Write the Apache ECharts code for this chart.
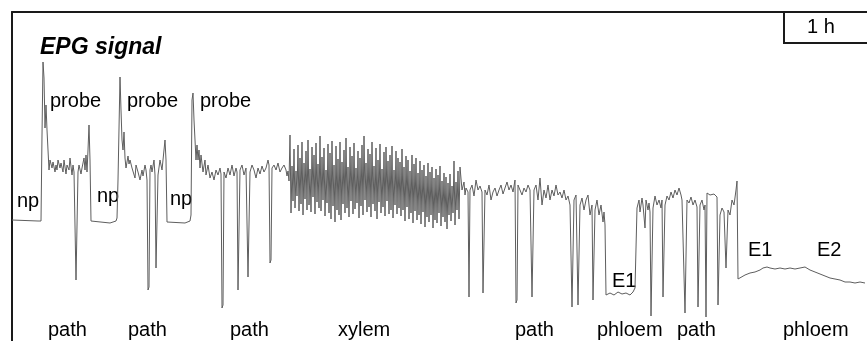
<!DOCTYPE html>
<html>
<head>
<meta charset="utf-8">
<script src="https://cdn.jsdelivr.net/npm/echarts@6/dist/echarts.min.js"></script>
<style>
  html, body { margin: 0; padding: 0; background: #fff; }
  #epg { width: 867px; height: 341px; }
</style>
</head>
<body>
<div id="epg"></div>
<script>
// EPG recording: [time, signal]
var probeTrace = [
  [0,121],[26,120],[28,119],[29,120],[30,206],[31,279],[32,263],[33,213],[34,236],[35,211],
  [36,191],[37,171],[38,181],[40,173],[41,179],[43,169],[44,176],[45,171],[46,181],[48,173],
  [49,178],[51,169],[52,181],[54,167],[55,176],[57,171],[58,183],[60,166],[61,176],[62,169],
  [63,171],[64,61],[65,63],[66,169],[67,176],[69,167],[70,173],[72,183],[73,171],[74,186],
  [75,169],[76,191],[77,216],[78,181],[79,120],[80,118],[98,118],[104,120],[105,123],[106,161],
  [108,264],[109,231],[110,201],[111,191],[112,209],[113,183],[114,173],[116,185],[117,177],[118,181],
  [120,173],[121,171],[123,163],[124,176],[126,169],[128,161],[130,171],[131,165],[133,176],[134,171],
  [135,161],[136,51],[137,54],[138,171],[139,176],[140,169],[142,181],[143,166],[144,73],[145,75],
  [146,166],[148,181],[149,176],[150,171],[152,191],[153,201],[154,181],[155,119],[156,117],[173,118],
  [178,120],[179,126],[180,241],[181,248],[182,221],[183,201],[184,181],[185,196],[186,181],[187,191],
  [188,173],[189,186],[191,169],[193,181],[194,166],[196,176],[198,163],[200,169],[202,161],[204,171],
  [206,166],[208,173],[209,167],[210,33],[211,36],[212,169],[214,163],[216,173],[218,166],[220,176],
  [222,165],[224,173],[225,169],[226,51],[227,53],[228,171],[230,176],[232,166],[234,173],[235,171],
  [236,64],[237,66],[238,169],[240,176],[242,171],[244,163],[246,173],[248,167],[250,175],[252,169],
  [254,173],[256,181],[257,176],[258,78],[259,81],[260,173],[262,176],[264,171],[266,178],[268,169],
  [270,173],[272,176],[274,171]
];

// xylem ingestion: one reading per time unit from xylemStart
var xylemStart = 275;
var xylemWave = [
  165,170,160,
  206,128,175,140,192,133,170,145,196,130,
  183,137,199,126,178,142,190,131,201,136,
  172,129,194,144,186,127,198,139,177,133,
  205,130,184,141,193,125,171,138,197,128,
  188,122,200,135,176,119,195,131,182,126,
  199,121,179,137,191,128,203,133,174,124,
  194,140,185,127,198,132,173,138,190,123,
  183,135,196,126,205,141,178,129,192,134,
  187,124,199,137,175,130,193,122,181,139,
  197,128,172,134,189,125,194,140,180,127,
  186,131,195,123,171,136,190,127,183,133,
  179,125,192,131,174,120,185,134,181,122,
  170,128,186,118,177,130,183,121,168,126,
  180,117,171,129,176,114,165,124,178,119,
  169,126,174,113,163,121,172,118,166,128,
  175,115,160,124,168,119,164,112,158,126,
  167,120,155,128,180,116,159,131,170,122,
  174
];

var pathTrace = [
  [450,151],[452,159],[453,146],[454,153],[456,149],[457,44],[458,151],[460,156],[462,145],[464,161],
  [466,151],[468,155],[470,149],[471,48],[472,50],[473,151],[475,146],[477,156],[479,141],[481,149],
  [483,153],[485,145],[487,151],[489,156],[491,147],[493,153],[495,159],[497,151],[499,156],[501,149],
  [503,161],[504,38],[505,41],[506,156],[508,151],[510,146],[512,153],[514,149],[516,156],[518,151],
  [520,44],[521,46],[522,151],[524,156],[526,141],[528,163],[530,136],[532,151],[534,143],[536,156],
  [538,141],[540,151],[542,145],[544,156],[546,146],[548,149],[550,143],[552,151],[554,141],[556,145],
  [558,136],[560,34],[561,36],[562,141],[564,146],[566,36],[567,38],[568,136],[570,143],[572,131],
  [574,141],[576,146],[578,126],[580,136],[581,41],[582,43],[583,131],[585,141],[587,126],[589,136],
  [591,119],[592,129],[593,116]
];

var phloemTrace = [
  [594,46],[598,48],[602,46],[606,49],[610,47],[614,48],[618,46],[621,49],[623,53],[624,51],
  [625,133],[627,141],[628,129],[630,143],[631,136],[633,113],[634,141],[636,131],[637,138],[638,129],
  [639,25],[640,27],[641,133],[643,145],[645,136],[647,141],[649,133],[650,141],[651,44],[652,46],
  [653,136],[655,145],[657,141],[659,149],[661,143],[663,151],[665,146],[667,153],[668,155],[669,146],
  [670,141],[672,143],[673,28],[674,30],[675,141],[677,138],[679,144],[681,136],[683,141],[685,134],
  [686,34],[687,36],[688,136],[690,141],[692,131],[693,136],[694,24],[695,148],[698,146],[702,147],
  [705,144],[706,36],[707,38],[708,126],[710,133],[712,129],[714,73],[715,75],[716,131],[718,126],
  [720,141],[722,136],[724,151],[725,160],[726,62],[728,64],[733,66],[738,68],[743,69],[748,71],
  [751,73],[753,71],[755,74],[758,73],[763,72],[768,73],[773,72],[778,73],[783,72],[788,73],
  [793,74],[798,71],[803,69],[808,67],[813,65],[818,63],[823,62],[828,61],[833,59],[838,59],
  [843,58],[848,59],[853,58]
];

var waveformLabels = ['np', 'probe', 'np', 'probe', 'np', 'probe', 'E1', 'E1', 'E2'];
var phaseLabels = ['path', 'path', 'path', 'xylem', 'path', 'phloem', 'path', 'phloem'];

var signal = probeTrace
  .concat(xylemWave.map(function (v, i) { return [xylemStart + i, v]; }))
  .concat(pathTrace)
  .concat(phloemTrace);

var FONT = '"Liberation Sans", Arial, sans-serif';

function label(text, x, y) {
  return {
    type: 'text', x: x, y: y, silent: true,
    style: { text: text, font: '20px ' + FONT, fill: '#000', verticalAlign: 'middle' }
  };
}

var wavePos = [[17, 201], [50, 101], [97, 196], [127, 101], [170, 199], [200, 101], [612, 281], [748, 250], [817, 250]];
var phasePos = [[48, 330], [128, 330], [230, 330], [338, 330], [515, 330], [597, 330], [677, 330], [783, 330]];

var graphics = [];
waveformLabels.forEach(function (t, i) { graphics.push(label(t, wavePos[i][0], wavePos[i][1])); });
phaseLabels.forEach(function (t, i) { graphics.push(label(t, phasePos[i][0], phasePos[i][1])); });
// 1 h scale box
graphics.push({
  type: 'polyline', silent: true,
  shape: { points: [[784, 12], [784, 43], [867, 43]] },
  style: { stroke: '#1a1a1a', lineWidth: 2, fill: null }
});
graphics.push(label('1 h', 807, 27));

var option = {
  animation: false,
  backgroundColor: '#fff',
  title: {
    text: 'EPG signal',
    left: 35, top: 31,
    textStyle: { fontFamily: FONT, fontSize: 23, fontWeight: 'bold', fontStyle: 'italic', color: '#000' }
  },
  grid: { left: 12, right: 0, top: 12, bottom: 0 },
  xAxis: {
    type: 'value', position: 'top', min: 0, max: 855,
    axisLine: { show: true, onZero: false, lineStyle: { color: '#1a1a1a', width: 2 } },
    axisTick: { show: false }, axisLabel: { show: false }, splitLine: { show: false }
  },
  yAxis: {
    type: 'value', min: 0, max: 329,
    axisLine: { show: true, onZero: false, lineStyle: { color: '#1a1a1a', width: 2 } },
    axisTick: { show: false }, axisLabel: { show: false }, splitLine: { show: false }
  },
  series: [{
    name: 'EPG',
    type: 'line',
    data: signal,
    showSymbol: false,
    lineStyle: { color: '#5e5e5e', width: 1 }
  }],
  graphic: graphics
};

var chart = echarts.init(document.getElementById('epg'));
chart.setOption(option);
</script>
</body>
</html>
